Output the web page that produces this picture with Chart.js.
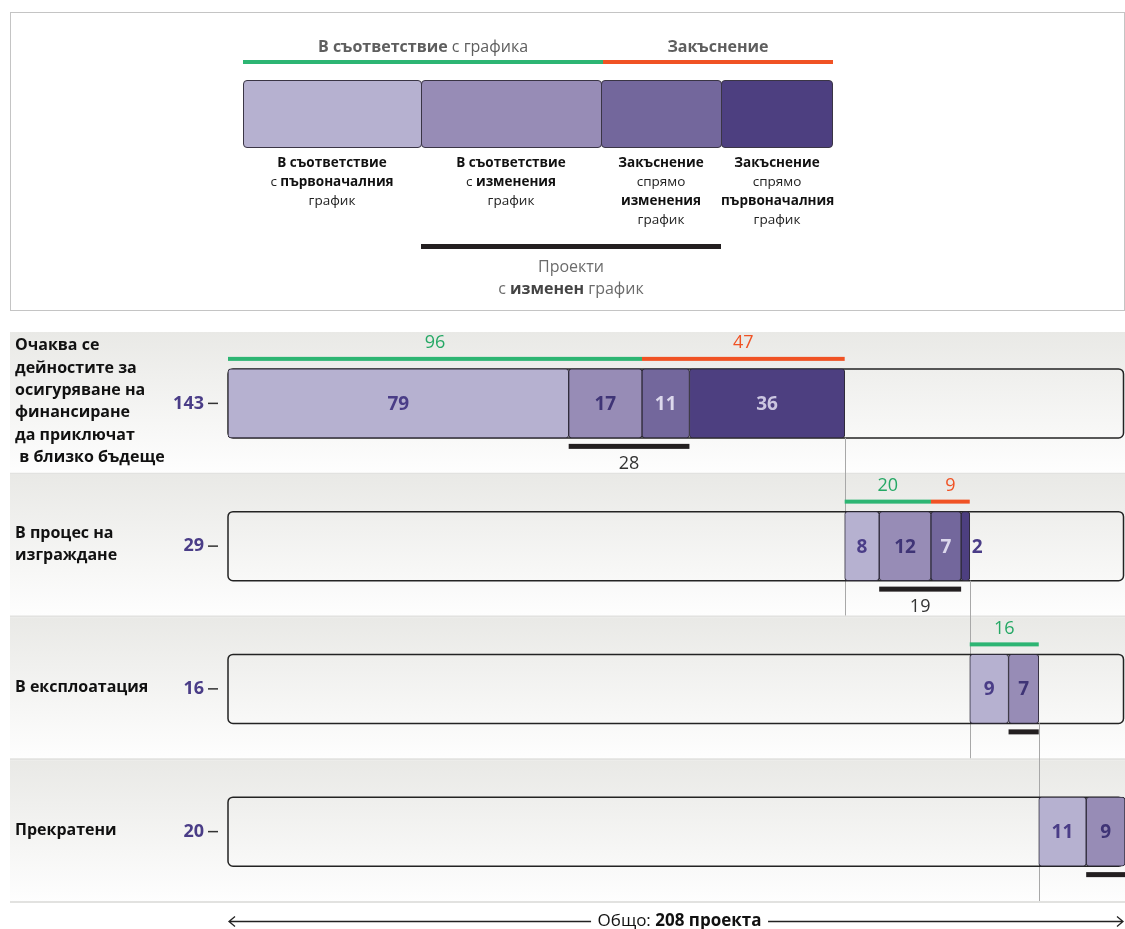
<!DOCTYPE html>
<html lang="bg">
<head>
<meta charset="UTF-8" />
<title>Проекти по етап и спазване на графика</title>
<script src="https://cdn.jsdelivr.net/npm/chart.js"></script>
<style>
  body { margin: 0; background: #fff; font-family: "Open Sans", "Noto Sans", sans-serif; }
  .page { position: relative; width: 1125px; height: 929px; overflow: hidden; }
  #chart { position: absolute; left: 0; top: 0; }
  .abs { position: absolute; }
  .frame { left: 10px; top: 12px; width: 1113px; height: 297px; border: 1px solid #c4c4c4; }
  .head { top: 36px; line-height: 20px; font-size: 16px; color: #5e5e5e; text-align: center; }
  .bar { height: 4px; }
  .swatch { top: 80px; height: 68px; border: 1px solid #3a3545; border-radius: 4px; box-sizing: border-box; }
  .cap { top: 153px; font-size: 13.5px; line-height: 19px; color: #222; text-align: center; white-space: nowrap; }
  .cap b { color: #111; }
  .proj { top: 255px; left: 421px; width: 300px; font-size: 16px; line-height: 22px; color: #6b6b6b; text-align: center; }
  .proj b { color: #444; }
  .rowlab { left: 15px; font-size: 16px; font-weight: bold; line-height: 22.3px; color: #111; white-space: pre; }
  .total { top: 909px; font-size: 17px; line-height: 22px; color: #111; background: #fff; padding: 0 7px; transform: translateX(-50%); white-space: nowrap; }
</style>
</head>
<body>
<div class="page">
  <canvas id="chart" width="1125" height="929"></canvas>

  <!-- legend -->
  <div class="abs frame"></div>
  <div class="abs head" style="left:243px;width:360px"><b>В съответствие</b> с графика</div>
  <div class="abs head" style="left:603px;width:230px"><b>Закъснение</b></div>
  <div class="abs bar" style="left:243px;top:60px;width:360px;background:#2db573"></div>
  <div class="abs bar" style="left:603px;top:60px;width:230px;background:#f05224"></div>
  <div class="abs swatch" style="left:243px;width:179px;background:#b6b1d0"></div>
  <div class="abs swatch" style="left:421px;width:181px;background:#978cb6"></div>
  <div class="abs swatch" style="left:601px;width:121px;background:#73679c"></div>
  <div class="abs swatch" style="left:721px;width:112px;background:#4d3f80"></div>
  <div class="abs cap" style="left:243px;width:178px"><b>В съответствие</b><br>с <b>първоначалния</b><br>график</div>
  <div class="abs cap" style="left:421px;width:180px"><b>В съответствие</b><br>с <b>изменения</b><br>график</div>
  <div class="abs cap" style="left:601px;width:120px"><b>Закъснение</b><br>спрямо<br><b>изменения</b><br>график</div>
  <div class="abs cap" style="left:721px;width:112px"><b>Закъснение</b><br>спрямо<br><b>първоначалния</b><br>график</div>
  <div class="abs" style="left:421px;top:244px;width:300px;height:5px;background:#231f20"></div>
  <div class="abs proj">Проекти<br>с <b>изменен</b> график</div>

  <div id="labels"></div>
  <div class="abs total" id="total"></div>
</div>

<script>
  // rows of the chart (project stage)
  var categories = [
    ["Очаква се", "дейностите за", "осигуряване на", "финансиране", "да приключат", " в близко бъдеще"],
    ["В процес на", "изграждане"],
    ["В експлоатация"],
    ["Прекратени"]
  ];
  // number of projects per schedule status
  var onTimeOriginal = [79, 8, 9, 11];
  var onTimeChanged = [17, 12, 7, 9];
  var lateChanged = [11, 7, 0, 0];
  var lateOriginal = [36, 2, 0, 0];
  // which annotations the original shows
  var showStatus = [true, true, true, false];
  var showChangedSum = [true, true, false, false];

  var series = [
    { label: "В съответствие с първоначалния график", values: onTimeOriginal, color: "#b6b1d0", text: "#4a3d87" },
    { label: "В съответствие с изменения график", values: onTimeChanged, color: "#978cb6", text: "#3f3476" },
    { label: "Закъснение спрямо изменения график", values: lateChanged, color: "#73679c", text: "#dcd8ec" },
    { label: "Закъснение спрямо първоначалния график", values: lateOriginal, color: "#4d3f80", text: "#cbc6e0" }
  ];

  var totals = categories.map(function (c, i) {
    return onTimeOriginal[i] + onTimeChanged[i] + lateChanged[i] + lateOriginal[i];
  });
  var rowStart = totals.map(function (t, i) {
    return totals.slice(0, i).reduce(function (a, b) { return a + b; }, 0);
  });
  var grandTotal = totals.reduce(function (a, b) { return a + b; }, 0);

  var FONT = '"Open Sans", "Noto Sans", sans-serif';
  var GREEN = "#2db573", RED = "#f05224", PURPLE = "#4a3d87";
  var BAR_H = 69;

  var datasets = series.map(function (s, k) {
    return {
      label: s.label,
      data: s.values.map(function (v, i) {
        if (!v) return null;
        var from = rowStart[i];
        for (var j = 0; j < k; j++) from += series[j].values[i];
        return [from, from + v];
      }),
      backgroundColor: s.color,
      borderColor: "#2f2b3a",
      borderWidth: 1,
      borderSkipped: false,
      borderRadius: 3,
      barThickness: BAR_H,
      grouped: false
    };
  });

  // bands, boxes, brackets and labels around the bars
  var rowDecor = {
    id: "rowDecor",
    beforeDraw: function (chart) {
      var ctx = chart.ctx, y = chart.scales.y;
      var band = (y.bottom - y.top) / categories.length;
      ctx.save();
      categories.forEach(function (c, i) {
        var top = y.getPixelForValue(i) - band / 2;
        var g = ctx.createLinearGradient(0, top, 0, top + band);
        g.addColorStop(0, "#e9e9e6");
        g.addColorStop(1, "#fefefe");
        ctx.fillStyle = g;
        ctx.fillRect(10, top, chart.width - 10, band - 2);
        ctx.fillStyle = "#e2e2e0";
        ctx.fillRect(10, top + band - 2, chart.width - 10, 2);
      });
      ctx.restore();
    },
    beforeDatasetsDraw: function (chart) {
      var ctx = chart.ctx, x = chart.scales.x, y = chart.scales.y;
      var band = (y.bottom - y.top) / categories.length;
      ctx.save();
      categories.forEach(function (c, i) {
        var cy = y.getPixelForValue(i);
        var l = x.getPixelForValue(0), r = x.getPixelForValue(grandTotal) - 1.5;
        ctx.beginPath();
        ctx.roundRect(l, cy - BAR_H / 2, r - l, BAR_H, 5);
        ctx.lineWidth = 1.5;
        ctx.strokeStyle = "#232323";
        ctx.stroke();
        // short tick next to the row total
        ctx.fillStyle = "#333";
        ctx.fillRect(x.left - 20, cy - 0.75, 10, 1.5);
        // connector down to the next row
        if (i < categories.length - 1) {
          var xe = Math.round(x.getPixelForValue(rowStart[i] + totals[i])) + 0.5;
          ctx.beginPath();
          ctx.moveTo(xe, cy + BAR_H / 2);
          ctx.lineTo(xe, y.getPixelForValue(i + 1) + band / 2 - 2);
          ctx.lineWidth = 1;
          ctx.strokeStyle = "#a8a8a8";
          ctx.stroke();
        }
      });
      ctx.restore();
    },
    afterDatasetsDraw: function (chart) {
      var ctx = chart.ctx, x = chart.scales.x, y = chart.scales.y;
      ctx.save();
      ctx.textAlign = "center";
      ctx.textBaseline = "middle";

      // values inside segments
      chart.data.datasets.forEach(function (ds, k) {
        ds.data.forEach(function (d, i) {
          if (!d) return;
          var x0 = x.getPixelForValue(d[0]), x1 = x.getPixelForValue(d[1]);
          var cy = y.getPixelForValue(i);
          ctx.font = "bold 19px " + FONT;
          if (x1 - x0 < 16) {
            ctx.fillStyle = PURPLE;
            ctx.textAlign = "left";
            ctx.fillText(d[1] - d[0], x1 + 2, cy + 1);
            ctx.textAlign = "center";
          } else {
            ctx.fillStyle = series[k].text;
            ctx.fillText(d[1] - d[0], (x0 + x1) / 2, cy + 1);
          }
        });
      });

      categories.forEach(function (c, i) {
        var cy = y.getPixelForValue(i);
        var s = rowStart[i];
        ctx.font = "18px " + FONT;
        if (showStatus[i]) {
          var onTime = onTimeOriginal[i] + onTimeChanged[i];
          var late = lateChanged[i] + lateOriginal[i];
          var a = x.getPixelForValue(s), b = x.getPixelForValue(s + onTime), e = x.getPixelForValue(s + onTime + late);
          var ly = cy - BAR_H / 2 - 12;
          ctx.fillStyle = GREEN;
          ctx.fillRect(a, ly, b - a, 4);
          ctx.fillStyle = "#25a865";
          ctx.fillText(onTime, (a + b) / 2, ly - 14);
          if (late) {
            ctx.fillStyle = RED;
            ctx.fillRect(b, ly, e - b, 4);
            ctx.fillText(late, (b + e) / 2, ly - 14);
          }
        }
        var changed = onTimeChanged[i] + lateChanged[i];
        var c0 = x.getPixelForValue(s + onTimeOriginal[i]);
        var c1 = x.getPixelForValue(s + onTimeOriginal[i] + changed);
        var uy = cy + BAR_H / 2 + 6;
        ctx.fillStyle = "#231f20";
        ctx.fillRect(c0, uy, c1 - c0, 5);
        if (showChangedSum[i]) {
          ctx.fillStyle = "#333";
          ctx.fillText(changed, (c0 + c1) / 2, uy + 20);
        }
      });

      // total arrow under the chart
      var ay = 921.5, l = x.left + 1, r = x.right - 2;
      ctx.strokeStyle = "#222";
      ctx.lineWidth = 1.3;
      ctx.beginPath();
      ctx.moveTo(l, ay); ctx.lineTo(r, ay);
      ctx.moveTo(l + 6, ay - 5); ctx.lineTo(l, ay); ctx.lineTo(l + 6, ay + 5);
      ctx.moveTo(r - 6, ay - 5); ctx.lineTo(r, ay); ctx.lineTo(r - 6, ay + 5);
      ctx.stroke();
      ctx.restore();
    }
  };

  var ctx = document.getElementById("chart").getContext("2d");
  var chart = new Chart(ctx, {
    type: "bar",
    data: {
      labels: categories.map(function (c) { return c.join(" ").trim(); }),
      datasets: datasets
    },
    options: {
      indexAxis: "y",
      responsive: false,
      animation: false,
      layout: { padding: { top: 332, bottom: 26, left: 0, right: 0 } },
      plugins: { legend: { display: false }, tooltip: { enabled: false } },
      scales: {
        x: { display: false, min: 0, max: grandTotal },
        y: {
          afterFit: function (scale) {
            scale.width = 228;
            scale.paddingTop = 0;
            scale.paddingBottom = 0;
          },
          grid: { display: false, drawTicks: false },
          border: { display: false },
          ticks: {
            padding: 24,
            color: PURPLE,
            font: { family: FONT, size: 18, weight: "bold" },
            callback: function (v, i) { return totals[i]; }
          }
        }
      }
    },
    plugins: [rowDecor]
  });

  // row names on the left, centred on each row
  var holder = document.getElementById("labels");
  categories.forEach(function (lines, i) {
    var d = document.createElement("div");
    d.className = "abs rowlab";
    d.textContent = lines.join("\n");
    holder.appendChild(d);
    var cy = chart.scales.y.getPixelForValue(i);
    d.style.top = (cy - d.offsetHeight / 2 - 3) + "px";
  });

  var tot = document.getElementById("total");
  tot.innerHTML = "Общо: <b>" + grandTotal + " проекта</b>";
  tot.style.left = ((chart.scales.x.left + chart.scales.x.right) / 2 + 3) + "px";
</script>
</body>
</html>
